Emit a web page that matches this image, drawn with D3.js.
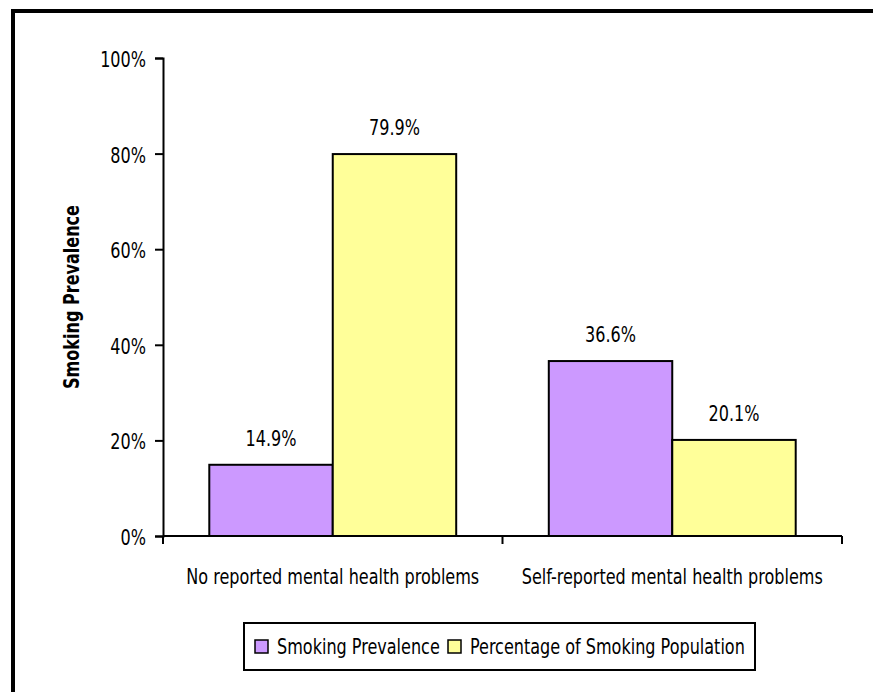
<!DOCTYPE html>
<html>
<head>
<meta charset="utf-8">
<script src="https://cdn.jsdelivr.net/npm/d3@7/dist/d3.min.js"></script>
<style>
  body { margin: 0; background: #fff; }
  text { font-family: "DejaVu Sans Condensed", "Liberation Sans Narrow", sans-serif; fill: #000; }
</style>
</head>
<body>
<div id="chart"></div>
<script>
// Data
var categories = ["No reported mental health problems", "Self-reported mental health problems"];
var seriesNames = ["Smoking Prevalence", "Percentage of Smoking Population"];
var prevalence = [14.9, 36.6];
var popShare = [79.9, 20.1];
var yTicks = [0, 20, 40, 60, 80, 100];

var colors = ["#cc99ff", "#ffff99"];
var narrow = 0.85; // squeeze text horizontally to look like a condensed face

var W = 873, H = 692;
var svg = d3.select("#chart").append("svg")
    .attr("width", W).attr("height", H);

// put text at (x,y) and squeeze it
function place(sel, fx, fy, extra) {
  sel.attr("transform", function(d, i) {
    return "translate(" + fx(d, i) + "," + fy(d, i) + ")" + (extra || "") + " scale(" + narrow + ",1)";
  });
}

// outer frame (only top/left visible)
svg.append("rect")
    .attr("x", 13).attr("y", 11)
    .attr("width", W + 20).attr("height", H + 20)
    .attr("fill", "none").attr("stroke", "#000").attr("stroke-width", 4);

var plot = {left: 163, right: 842, top: 58, bottom: 536};

var x0 = d3.scaleBand()
    .domain(categories)
    .range([plot.left, plot.right]);

var x1 = d3.scaleBand()
    .domain(seriesNames)
    .range([0, x0.bandwidth()])
    .paddingOuter(0.375);

var y = d3.scaleLinear()
    .domain([0, 100])
    .range([plot.bottom, plot.top]);

var rows = categories.map(function(c, i) {
  return {cat: c, values: [
    {name: seriesNames[0], value: prevalence[i]},
    {name: seriesNames[1], value: popShare[i]}
  ]};
});

// bars
var groups = svg.selectAll(".grp")
    .data(rows).enter().append("g")
    .attr("class", "grp")
    .attr("transform", function(d) { return "translate(" + x0(d.cat) + ",0)"; });

groups.selectAll("rect")
    .data(function(d) { return d.values; })
    .enter().append("rect")
    .attr("x", function(d) { return x1(d.name); })
    .attr("y", function(d) { return y(d.value); })
    .attr("width", x1.bandwidth())
    .attr("height", function(d) { return y(0) - y(d.value); })
    .attr("fill", function(d, i) { return colors[i]; })
    .attr("stroke", "#000").attr("stroke-width", 2);

groups.selectAll(".val")
    .data(function(d) { return d.values; })
    .enter().append("text")
    .attr("class", "val")
    .attr("text-anchor", "middle")
    .style("font-size", "21px")
    .text(function(d) { return d.value.toFixed(1) + "%"; })
    .call(place, function(d) { return x1(d.name) + x1.bandwidth() / 2; },
                 function(d) { return y(d.value) - 19; });

// y axis
var yAxis = svg.append("g")
    .attr("transform", "translate(" + plot.left + ",0)")
    .call(d3.axisLeft(y).tickValues(yTicks).tickSize(8).tickPadding(9)
      .tickFormat(function(d) { return d + "%"; }));
yAxis.select(".domain").attr("stroke-width", 2);
yAxis.selectAll(".tick line").attr("stroke-width", 2);
yAxis.selectAll(".tick text")
    .attr("fill", "#000").attr("x", 0).attr("dy", "0.4em")
    .style("font-size", "21px")
    .call(place, function() { return -17; }, function() { return 0; });

// x axis
var xAxis = svg.append("g")
    .attr("transform", "translate(0," + plot.bottom + ")");
xAxis.append("line")
    .attr("x1", plot.left).attr("x2", plot.right)
    .attr("stroke", "#000").attr("stroke-width", 2);
xAxis.selectAll(".xt")
    .data([plot.left, x0(categories[1]), plot.right])
    .enter().append("line")
    .attr("x1", function(d) { return d; }).attr("x2", function(d) { return d; })
    .attr("y1", 0).attr("y2", 8)
    .attr("stroke", "#000").attr("stroke-width", 2);
xAxis.selectAll(".xl")
    .data(categories).enter().append("text")
    .attr("text-anchor", "middle")
    .style("font-size", "21px")
    .text(function(d) { return d; })
    .call(place, function(d) { return x0(d) + x0.bandwidth() / 2; }, function() { return 48; });

// y title
svg.append("text")
    .attr("text-anchor", "middle")
    .style("font-size", "21px").style("font-weight", "bold")
    .text("Smoking Prevalence")
    .call(place, function() { return 79; }, function() { return (plot.top + plot.bottom) / 2; }, " rotate(-90)");

// legend
var lg = svg.append("g").attr("transform", "translate(244,623)");
lg.append("rect")
    .attr("width", 511).attr("height", 47)
    .attr("fill", "#fff").attr("stroke", "#000").attr("stroke-width", 2);
var lx = [11, 204];
var item = lg.selectAll(".item")
    .data(seriesNames).enter().append("g")
    .attr("transform", function(d, i) { return "translate(" + lx[i] + ",0)"; });
item.append("rect")
    .attr("x", 0).attr("y", 17).attr("width", 13).attr("height", 13)
    .attr("fill", function(d, i) { return colors[i]; })
    .attr("stroke", "#000").attr("stroke-width", 1.5);
item.append("text")
    .style("font-size", "21px")
    .text(function(d) { return d; })
    .call(place, function() { return 22; }, function() { return 31; });
</script>
</body>
</html>
